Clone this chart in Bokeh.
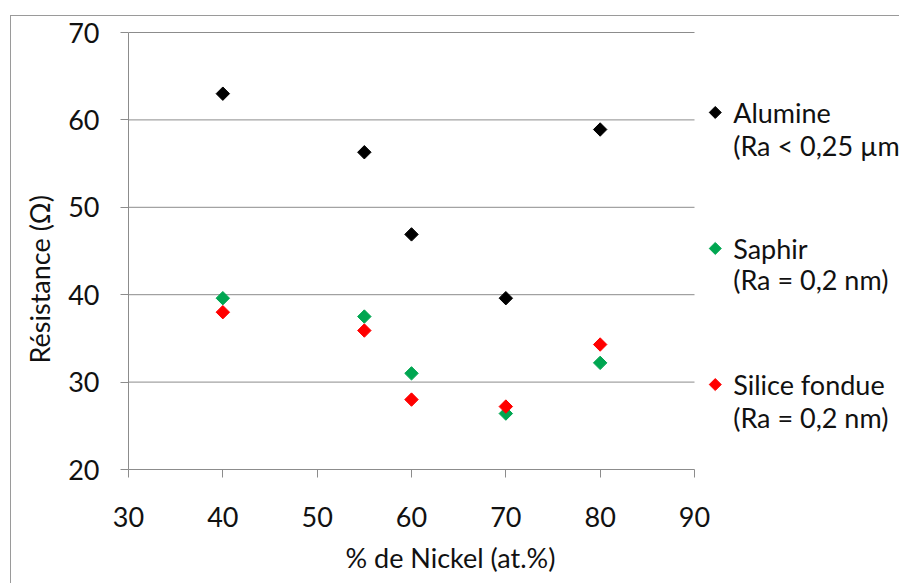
import numpy as np
from bokeh.plotting import figure
from bokeh.models import Range1d, Label, FixedTicker, Title
from bokeh.embed import file_html
from bokeh.resources import INLINE

nickel = [40, 55, 60, 70, 80]
alumine = [63.0, 56.3, 46.9, 39.6, 58.9]
saphir = [39.6, 37.5, 31.0, 26.4, 32.2]
silice = [38.0, 35.9, 28.0, 27.2, 34.3]
series_names = ["Alumine", "Saphir", "Silice fondue"]
series_sub = ["(Ra < 0,25 µm", "(Ra = 0,2 nm)", "(Ra = 0,2 nm)"]
colors = ["#000000", "#00A651", "#FF0000"]
x_ticks = [30, 40, 50, 60, 70, 80, 90]
y_ticks = [20, 30, 40, 50, 60, 70]
x_label = "% de Nickel (at.%)"
y_label = "Résistance (Ω)"

FONT = "Lato"
FS = "27px"
GRAY = "#8c8c8c"
TXT = "#111111"

# layout (canvas pixels)
W, H = 889, 568
LEFT, TOP, BOTTOM = 117, 13, 115
PX_X = 566 / 60.0      # pixels per x unit
PX_Y = 437 / 50.0      # pixels per y unit
x_end = 30 + (W - LEFT) / PX_X
y_end = 70 + 3 / PX_Y

p = figure(width=W, height=H, output_backend="svg", toolbar_location=None,
           x_range=Range1d(30, x_end), y_range=Range1d(20, y_end),
           min_border_left=LEFT, min_border_right=0, min_border_top=TOP,
           min_border_bottom=BOTTOM,
           styles={"position": "absolute", "left": "10px", "top": "15px",
                   "border-left": "1px solid #9a9a9a", "border-top": "1px solid #9a9a9a"})
p.outline_line_color = None
p.background_fill_color = "white"
p.border_fill_color = "white"
p.xgrid.grid_line_color = None
p.ygrid.grid_line_color = None

p.xaxis.ticker = FixedTicker(ticks=x_ticks)
p.yaxis.ticker = FixedTicker(ticks=y_ticks)
p.xaxis.bounds = (x_ticks[0], x_ticks[-1])
p.yaxis.bounds = (y_ticks[0], y_ticks[-1])
for ax in (p.xaxis[0], p.yaxis[0]):
    ax.axis_line_color = GRAY
    ax.major_tick_line_color = GRAY
    ax.major_tick_in = 0
    ax.major_tick_out = 8
    ax.minor_tick_line_color = None
    ax.major_label_text_font = FONT
    ax.major_label_text_font_size = FS
    ax.major_label_text_color = TXT

p.yaxis.major_label_standoff = 21
p.xaxis.major_label_standoff = 29

# horizontal gridlines limited to the x-axis extent
grid_y = y_ticks[1:]
p.segment(x0=[x_ticks[0]] * len(grid_y), x1=[x_ticks[-1]] * len(grid_y),
          y0=grid_y, y1=grid_y, line_color=GRAY, line_width=1)

for ys, c in zip([alumine, saphir, silice], colors):
    p.scatter(nickel, ys, marker="square", angle=np.pi / 4, size=9.5,
              fill_color=c, line_color=c)

# legend (keys + two-line labels), placed right of the axis extent
key_x, text_x = 92.2, 94.1
row_y = [60.85, 45.29, 29.72]
sub_y = [57.07, 41.74, 25.95]
p.scatter([key_x] * 3, row_y, marker="square", angle=np.pi / 4, size=8.5,
          fill_color=colors, line_color=colors)
for name, sub, ry, sy in zip(series_names, series_sub, row_y, sub_y):
    p.add_layout(Label(x=text_x, y=ry, text=name, text_font=FONT, text_font_size=FS,
                       text_baseline="middle", text_align="left", text_color=TXT))
    p.add_layout(Label(x=text_x, y=sy, text=sub, text_font=FONT, text_font_size=FS,
                       text_baseline="middle", text_align="left", text_color=TXT))

p.add_layout(Title(text=x_label, align="left", offset=217, standoff=19,
                   text_font=FONT, text_font_size=FS, text_font_style="normal",
                   text_color=TXT), "below")
p.add_layout(Title(text=y_label, align="left", offset=106, standoff=19,
                   text_font=FONT, text_font_size=FS, text_font_style="normal",
                   text_color=TXT), "left")

open("out.html", "w").write(file_html(p, INLINE))
